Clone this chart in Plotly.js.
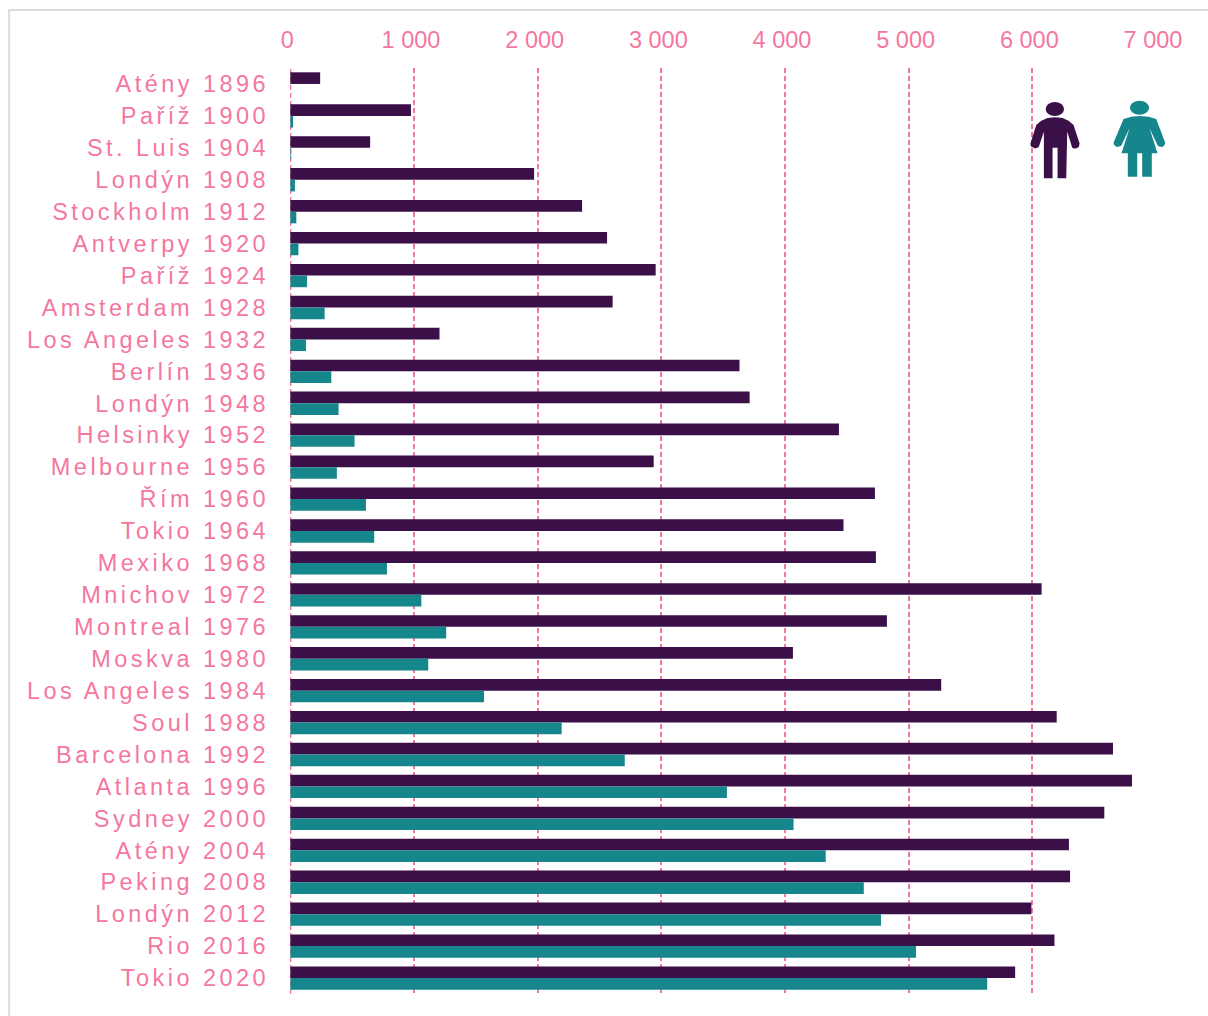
<!DOCTYPE html>
<html><head><meta charset="utf-8">
<script src="https://cdn.plot.ly/plotly-3.0.1.min.js"></script>
<style>
html,body{margin:0;padding:0;background:#fff;overflow:hidden}
.ytick text{letter-spacing:3.45px}
</style></head><body><div id="chart" style="width:1208px;height:1016px"></div>
<script>
const games = ["Atény 1896","Paříž 1900","St. Luis 1904","Londýn 1908","Stockholm 1912","Antverpy 1920","Paříž 1924","Amsterdam 1928","Los Angeles 1932","Berlín 1936","Londýn 1948","Helsinky 1952","Melbourne 1956","Řím 1960","Tokio 1964","Mexiko 1968","Mnichov 1972","Montreal 1976","Moskva 1980","Los Angeles 1984","Soul 1988","Barcelona 1992","Atlanta 1996","Sydney 2000","Atény 2004","Peking 2008","Londýn 2012","Rio 2016","Tokio 2020"];
const men = [241,975,645,1971,2359,2561,2954,2606,1206,3632,3714,4436,2938,4727,4473,4735,6075,4824,4064,5263,6197,6652,6806,6582,6296,6305,5992,6179,5861];
const women = [0,22,6,37,48,65,135,277,126,331,390,519,376,611,678,781,1059,1260,1115,1566,2194,2704,3530,4069,4329,4637,4776,5059,5635];
const xTicks = [0,1000,2000,3000,4000,5000,6000,7000];
const xTickLabels = ["0","1 000","2 000","3 000","4 000","5 000","6 000","7 000"];

const W=1208,H=1016,L=290,R=1156.5,T=68,B=994;
const px=x=>(x-L)/(R-L), py=y=>(B-y)/(B-T);
const poly=pts=>"M"+pts.map(p=>px(p[0]).toFixed(5)+","+py(p[1]).toFixed(5)).join(" L")+" Z";
const DARK="#3b1049",TEAL="#15868b",PINK="#f4779f";
const manBody=[[1041.7,120.7],[1048,118],[1055.3,117.3],[1063,118],[1069,120.7],[1074,125],[1080,143.3],[1079.5,146.5],[1077.3,148.3],[1074.5,148.5],[1072.7,147.7],[1067.7,131.7],[1066.7,178.3],[1058,178.3],[1058,147.7],[1053,147.7],[1053,178.3],[1044.3,178.3],[1044.3,131.7],[1039.3,146.7],[1037,148.3],[1035,148.3],[1031.5,146.5],[1030.7,144],[1036.7,125]];
const womanBody=[[1124,119],[1132,116.8],[1140,116],[1149,116.8],[1156.7,119],[1165.7,142.7],[1165,145],[1163.3,146.7],[1160.5,146.7],[1158.3,145.7],[1150,128.3],[1158,153.3],[1152.3,153.3],[1152.3,176.7],[1142.7,176.7],[1142.7,153.3],[1137.7,153.3],[1137.7,176.7],[1128.3,176.7],[1128.3,153.3],[1122,153.3],[1130,128.3],[1121.7,145.7],[1119,146.7],[1116.7,146.7],[1114.7,145],[1114,142.7]];
const head=(cx,cy,rx,ry,c)=>({type:"circle",xref:"paper",yref:"paper",x0:px(cx-rx),x1:px(cx+rx),y0:py(cy+ry),y1:py(cy-ry),fillcolor:c,line:{width:0}});
const body=(pts,c)=>({type:"path",xref:"paper",yref:"paper",path:poly(pts),fillcolor:c,line:{width:0}});

const bar=(name,x,color)=>({type:"bar",orientation:"h",name,y:games,x,marker:{color,line:{width:0}}});
Plotly.newPlot("chart",[bar("Muži",men,DARK),bar("Ženy",women,TEAL)],{
  width:W,height:H,margin:{l:L,r:W-R,t:T,b:H-B,pad:0},
  paper_bgcolor:"#fff",plot_bgcolor:"#fff",showlegend:false,
  barmode:"group",bargap:0.27,bargroupgap:0,
  font:{family:"Liberation Sans, Arial, sans-serif",color:PINK},
  xaxis:{side:"top",range:[-3,7000],tickmode:"array",tickvals:xTicks,ticktext:xTickLabels,
    tickfont:{size:23.5,color:PINK},ticks:"",ticklabelshift:-3,ticklabelstandoff:14,
    showgrid:true,gridcolor:PINK,griddash:"5px,3px",gridwidth:2,zeroline:false,showline:false},
  yaxis:{type:"category",categoryorder:"array",categoryarray:games,autorange:"reversed",
    tickfont:{size:23.5,color:PINK},ticks:"",ticklabelstandoff:20,showgrid:false,zeroline:false,showline:false},
  shapes:[
    {type:"rect",xref:"paper",yref:"paper",x0:px(9),x1:px(W+10),y0:py(H+10),y1:py(10),line:{color:"#dcdcdc",width:2},fillcolor:"rgba(0,0,0,0)",layer:"below"},
    {type:"line",xref:"x",yref:"paper",x0:xTicks[0],x1:xTicks[0],y0:0,y1:1,line:{color:PINK,width:2,dash:"5px,3px"},layer:"below"},
    body(manBody,DARK),head(1055.3,109,9.2,7,DARK),
    body(womanBody,TEAL),head(1140,107.7,9.6,7,TEAL)
  ]
},{displayModeBar:false,staticPlot:true});
</script></body></html>
